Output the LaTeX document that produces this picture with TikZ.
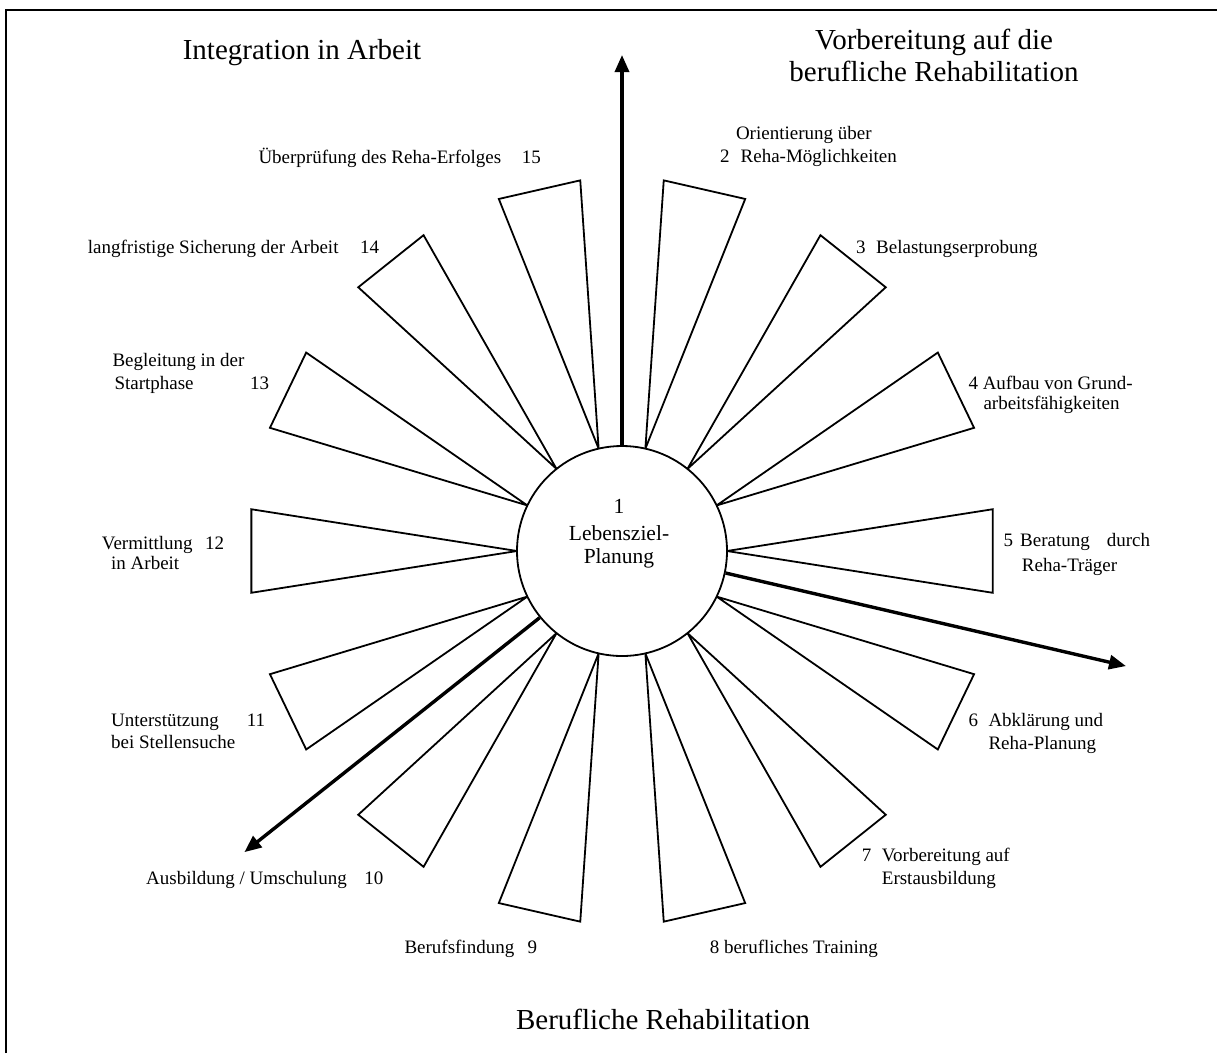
\documentclass[tikz,border=0pt]{standalone}
\usepackage{fontspec}
\setmainfont{Liberation Serif}
\usetikzlibrary{arrows.meta,calc}
\begin{document}
\begin{tikzpicture}[x=1pt,y=-1pt,
  wedge/.style={draw=black, line width=1.8pt, line join=miter, fill=white},
  bigarrow/.style={line width=3.4pt, -{Triangle[length=17pt,width=14pt]}},
  lab/.style={font=\fontsize{19}{22}\selectfont, inner sep=0pt, anchor=base west},
  title/.style={font=\fontsize{29}{32}\selectfont, inner sep=0pt, anchor=base},
  ctr/.style={font=\fontsize{21.5}{24}\selectfont, inner sep=0pt, anchor=base},
  frame/.style={line width=2.6pt, line join=miter}
]
\useasboundingbox (0,0) rectangle (1217,1053);
% partial frame (top and left edges)
\draw[frame] (6,1053) -- (6,10) -- (1217,10);

\coordinate (o) at (622,551);

% wedges 2..15
\foreach \k in {2,...,15} {
  \pgfmathsetmacro{\a}{(\k-2)*25.714286-77.142857}
  \draw[wedge] ($(o)+(\a:105)$) -- ($(o)+(\a+6.43:373)$) -- ($(o)+(\a-6.43:373)$) -- cycle;
}

% centre circle
\node[circle, draw, line width=1.8pt, fill=white, minimum size=210pt, inner sep=0pt] (c) at (o) {};
\node[ctr] (n1a) at (619,513.5) {1};
\node[ctr] (n1b) at (619,540) {Lebensziel-};
\node[ctr] (n1c) at (619,563.5) {Planung};

% arrows
\coordinate (upend) at (622,55);
\coordinate (rend) at ($(o)+(12.86:517)$);
\coordinate (lend) at ($(o)+(141.43:483)$);
\draw[bigarrow] (c.north) -- (upend);
\draw[bigarrow] (c.-12.86) -- (rend);
\draw[bigarrow] (c.-141.43) -- (lend);

% titles
\node[title] (h1) at (302,59) {Integration in Arbeit};
\node[title] (h2a) at (934,49) {Vorbereitung auf die};
\node[title] (h2b) at (934,81) {berufliche Rehabilitation};
\node[title] (h3) at (663,1029) {Berufliche Rehabilitation};

% labels
\node[lab] (t2a) at (735.8,139) {Orientierung über};
\node[lab] (t2b) at (720,162) {\makebox[20.5pt][l]{2}Reha-Möglichkeiten};
\node[lab] (t3) at (856,253) {\makebox[20pt][l]{3}Belastungserprobung};
\node[lab] (t4a) at (968.3,389.5) {4 Aufbau von Grund-};
\node[lab] (t4b) at (983.3,409.5) {arbeitsfähigkeiten};
\node[lab] (t5a) at (1003.3,546) {\makebox[16.7pt][l]{5}\makebox[86.7pt][l]{Beratung}durch};
\node[lab] (t5b) at (1021.7,571) {Reha-Träger};
\node[lab] (t6a) at (968.3,726) {\makebox[20pt][l]{6}Abklärung und};
\node[lab] (t6b) at (988.3,749) {Reha-Planung};
\node[lab] (t7a) at (861.7,861) {\makebox[20pt][l]{7}Vorbereitung auf};
\node[lab] (t7b) at (881.7,884.5) {Erstausbildung};
\node[lab] (t8) at (709.6,953) {8 berufliches Training};
\node[lab] (t9) at (404.3,953) {\makebox[123.2pt][l]{Berufsfindung}9};
\node[lab] (t10) at (146,884.5) {\makebox[218.3pt][l]{Ausbildung / Umschulung}10};
\node[lab] (t11a) at (111,726) {\makebox[135.7pt][l]{Unterstützung}11};
\node[lab] (t11b) at (111,748) {bei Stellensuche};
\node[lab] (t12a) at (101.7,549.5) {\makebox[103.3pt][l]{Vermittlung}12};
\node[lab] (t12b) at (111,569.5) {in Arbeit};
\node[lab] (t13a) at (112.3,366) {Begleitung in der};
\node[lab] (t13b) at (114.3,389) {\makebox[135.7pt][l]{Startphase}13};
\node[lab] (t14) at (87.7,253) {\makebox[272.3pt][l]{langfristige Sicherung der Arbeit}14};
\node[lab] (t15) at (258.3,163) {\makebox[263.4pt][l]{Überprüfung des Reha-Erfolges}15};
\end{tikzpicture}
\end{document}
